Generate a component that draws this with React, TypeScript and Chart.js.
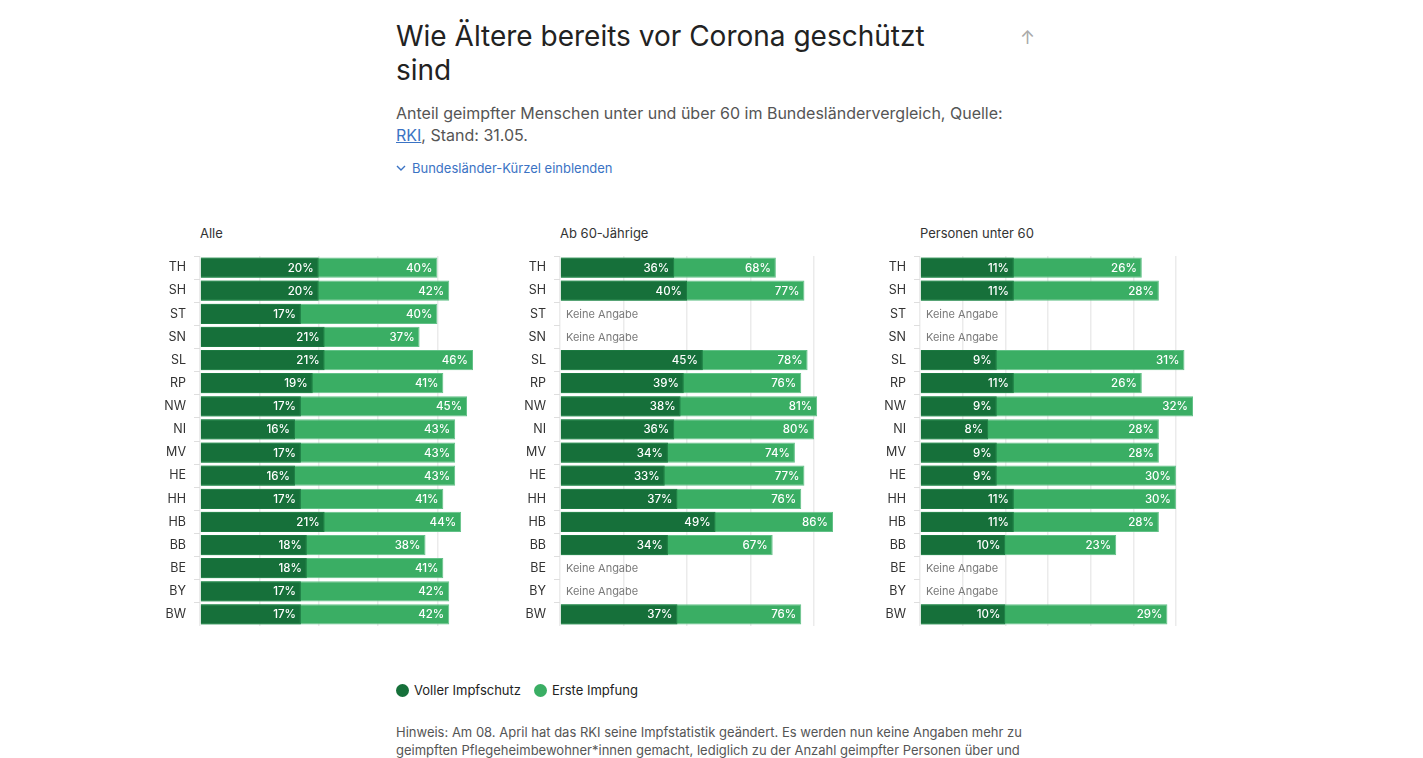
import React, { useEffect, useRef } from "react";
import { Chart, registerables } from "chart.js";

Chart.register(...registerables);

const LAENDER = ["TH", "SH", "ST", "SN", "SL", "RP", "NW", "NI", "MV", "HE", "HH", "HB", "BB", "BE", "BY", "BW"];

const ALLE_VOLL = [20, 20, 17, 21, 21, 19, 17, 16, 17, 16, 17, 21, 18, 18, 17, 17];
const ALLE_ERSTE = [40, 42, 40, 37, 46, 41, 45, 43, 43, 43, 41, 44, 38, 41, 42, 42];

const AB60_VOLL = [36, 40, null, null, 45, 39, 38, 36, 34, 33, 37, 49, 34, null, null, 37];
const AB60_ERSTE = [68, 77, null, null, 78, 76, 81, 80, 74, 77, 76, 86, 67, null, null, 76];

const U60_VOLL = [11, 11, null, null, 9, 11, 9, 8, 9, 9, 11, 11, 10, null, null, 10];
const U60_ERSTE = [26, 28, null, null, 31, 26, 32, 28, 28, 30, 30, 28, 23, null, null, 29];

const PANEL_TITLES = ["Alle", "Ab 60-Jährige", "Personen unter 60"];
const PANEL_STEPS = [10, 20, 5];
const SERIES_NAMES = ["Voller Impfschutz", "Erste Impfung"];

const DARK = "#16703a";
const LIGHT = "#3aae64";
const FONT = "Inter, 'Noto Sans', sans-serif";

const labelPlugin = {
  id: "barLabels",
  afterDatasetsDraw(chart: any) {
    const ctx = chart.ctx;
    const area = chart.chartArea;
    const yScale = chart.scales.y;
    ctx.save();
    ctx.textBaseline = "middle";
    for (let d = chart.data.datasets.length - 1; d >= 0; d--) {
      const meta = chart.getDatasetMeta(d);
      const ds = chart.data.datasets[d];
      meta.data.forEach((el: any, i: number) => {
        const v = ds.data[i];
        if (v === null || v === undefined) return;
        ctx.font = `500 11.5px ${FONT}`;
        ctx.fillStyle = "#ffffff";
        ctx.textAlign = "right";
        ctx.fillText(`${v}%`, el.x - 5, el.y + 0.5);
      });
    }
    const first = chart.data.datasets[0].data;
    first.forEach((v: any, i: number) => {
      if (v === null || v === undefined) {
        const y = yScale.getPixelForValue(i);
        ctx.font = `400 11px ${FONT}`;
        ctx.fillStyle = "#7a7a7a";
        ctx.textAlign = "left";
        ctx.fillText("Keine Angabe", area.left + 6, y + 0.5);
      }
    });
    ctx.restore();
  },
};

function Panel({ voll, erste, step, left, title }: any) {
  const ref = useRef<HTMLCanvasElement | null>(null);
  useEffect(() => {
    if (!ref.current) return;
    const maxVal = Math.max(...(erste.filter((v: any) => v !== null) as number[]));
    const chart = new Chart(ref.current, {
      type: "bar",
      data: {
        labels: LAENDER,
        datasets: [
          {
            label: SERIES_NAMES[0],
            data: voll,
            backgroundColor: DARK,
            borderColor: "#1d7a42",
            borderWidth: 1,
            grouped: false,
            barPercentage: 0.88,
            categoryPercentage: 1,
          } as any,
          {
            label: SERIES_NAMES[1],
            data: erste,
            backgroundColor: LIGHT,
            borderColor: "#62c187",
            borderWidth: 1,
            grouped: false,
            barPercentage: 0.88,
            categoryPercentage: 1,
          } as any,
        ],
      },
      options: {
        indexAxis: "y",
        responsive: false,
        animation: false,
        layout: { padding: 0 },
        plugins: {
          legend: { display: false },
          tooltip: { enabled: false },
        },
        scales: {
          x: {
            type: "linear",
            min: 0,
            max: maxVal,
            ticks: { display: false, stepSize: step, includeBounds: false } as any,
            grid: { color: "#ebebeb", drawTicks: false, lineWidth: 1.5 },
            border: { display: false },
            afterFit: (s: any) => {
              s.height = 0;
              s.paddingLeft = 0;
              s.paddingRight = 0;
            },
          } as any,
          y: {
            type: "category",
            ticks: { color: "#333", font: { family: FONT, size: 12.5 }, padding: 8 },
            grid: { drawOnChartArea: false, drawTicks: true, tickLength: 6, color: "#dedede" },
            border: { display: false },
            afterFit: (s: any) => {
              s.width = 40;
              s.paddingTop = 0;
              s.paddingBottom = 0;
            },
          } as any,
        },
      },
      plugins: [labelPlugin],
    });
    return () => chart.destroy();
  }, []);
  return (
    <>
      <div
        style={{
          position: "absolute",
          left: left + 40,
          top: 225,
          fontSize: 13,
          color: "#333",
          fontFamily: FONT,
          whiteSpace: "nowrap",
        }}
      >
        {title}
      </div>
      <div style={{ position: "absolute", left, top: 256, width: 313, height: 370 }}>
        <canvas ref={ref} width={313} height={370} style={{ width: 313, height: 370, display: "block" }} />
      </div>
    </>
  );
}

export default function App() {
  return (
    <div
      style={{
        position: "absolute",
        left: 0,
        top: 0,
        width: 1423,
        height: 758,
        overflow: "hidden",
        background: "#fff",
        fontFamily: FONT,
      }}
    >
      <div
        style={{
          position: "absolute",
          left: 396,
          top: 19,
          width: 545,
          fontSize: 28,
          lineHeight: "34px",
          color: "#222",
          fontWeight: 400,
        }}
      >
        Wie Ältere bereits vor Corona geschützt sind
      </div>
      <div style={{ position: "absolute", left: 1020, top: 27, fontSize: 18, color: "#aaa" }}>↑</div>
      <div
        style={{
          position: "absolute",
          left: 396,
          top: 102,
          width: 620,
          fontSize: 16,
          lineHeight: "22px",
          color: "#555",
        }}
      >
        Anteil geimpfter Menschen unter und über 60 im Bundesländervergleich, Quelle:{" "}
        <span style={{ color: "#3b73c4", textDecoration: "underline" }}>RKI</span>, Stand: 31.05.
      </div>
      <div
        style={{
          position: "absolute",
          left: 396,
          top: 160,
          fontSize: 13,
          color: "#3b73c4",
          display: "flex",
          alignItems: "center",
          gap: 6,
        }}
      >
        <svg width="10" height="8" viewBox="0 0 10 8">
          <polyline points="1,2 5,6 9,2" fill="none" stroke="#3b73c4" strokeWidth="1.4" />
        </svg>
        <span>Bundesländer-Kürzel einblenden</span>
      </div>

      <Panel voll={ALLE_VOLL} erste={ALLE_ERSTE} step={PANEL_STEPS[0]} left={160} title={PANEL_TITLES[0]} />
      <Panel voll={AB60_VOLL} erste={AB60_ERSTE} step={PANEL_STEPS[1]} left={520} title={PANEL_TITLES[1]} />
      <Panel voll={U60_VOLL} erste={U60_ERSTE} step={PANEL_STEPS[2]} left={880} title={PANEL_TITLES[2]} />

      <div
        style={{
          position: "absolute",
          left: 396,
          top: 682,
          fontSize: 13,
          color: "#222",
          display: "flex",
          alignItems: "center",
        }}
      >
        <span style={{ width: 13, height: 13, borderRadius: "50%", background: DARK, display: "inline-block", marginRight: 5 }} />
        <span style={{ marginRight: 13 }}>{SERIES_NAMES[0]}</span>
        <span style={{ width: 13, height: 13, borderRadius: "50%", background: LIGHT, display: "inline-block", marginRight: 5 }} />
        <span>{SERIES_NAMES[1]}</span>
      </div>

      <div
        style={{
          position: "absolute",
          left: 396,
          top: 723,
          width: 640,
          fontSize: 13,
          lineHeight: "18px",
          color: "#555",
        }}
      >
        Hinweis: Am 08. April hat das RKI seine Impfstatistik geändert. Es werden nun keine Angaben mehr zu
        geimpften Pflegeheimbewohner*innen gemacht, lediglich zu der Anzahl geimpfter Personen über und unter
        60 Jahren.
      </div>
    </div>
  );
}
